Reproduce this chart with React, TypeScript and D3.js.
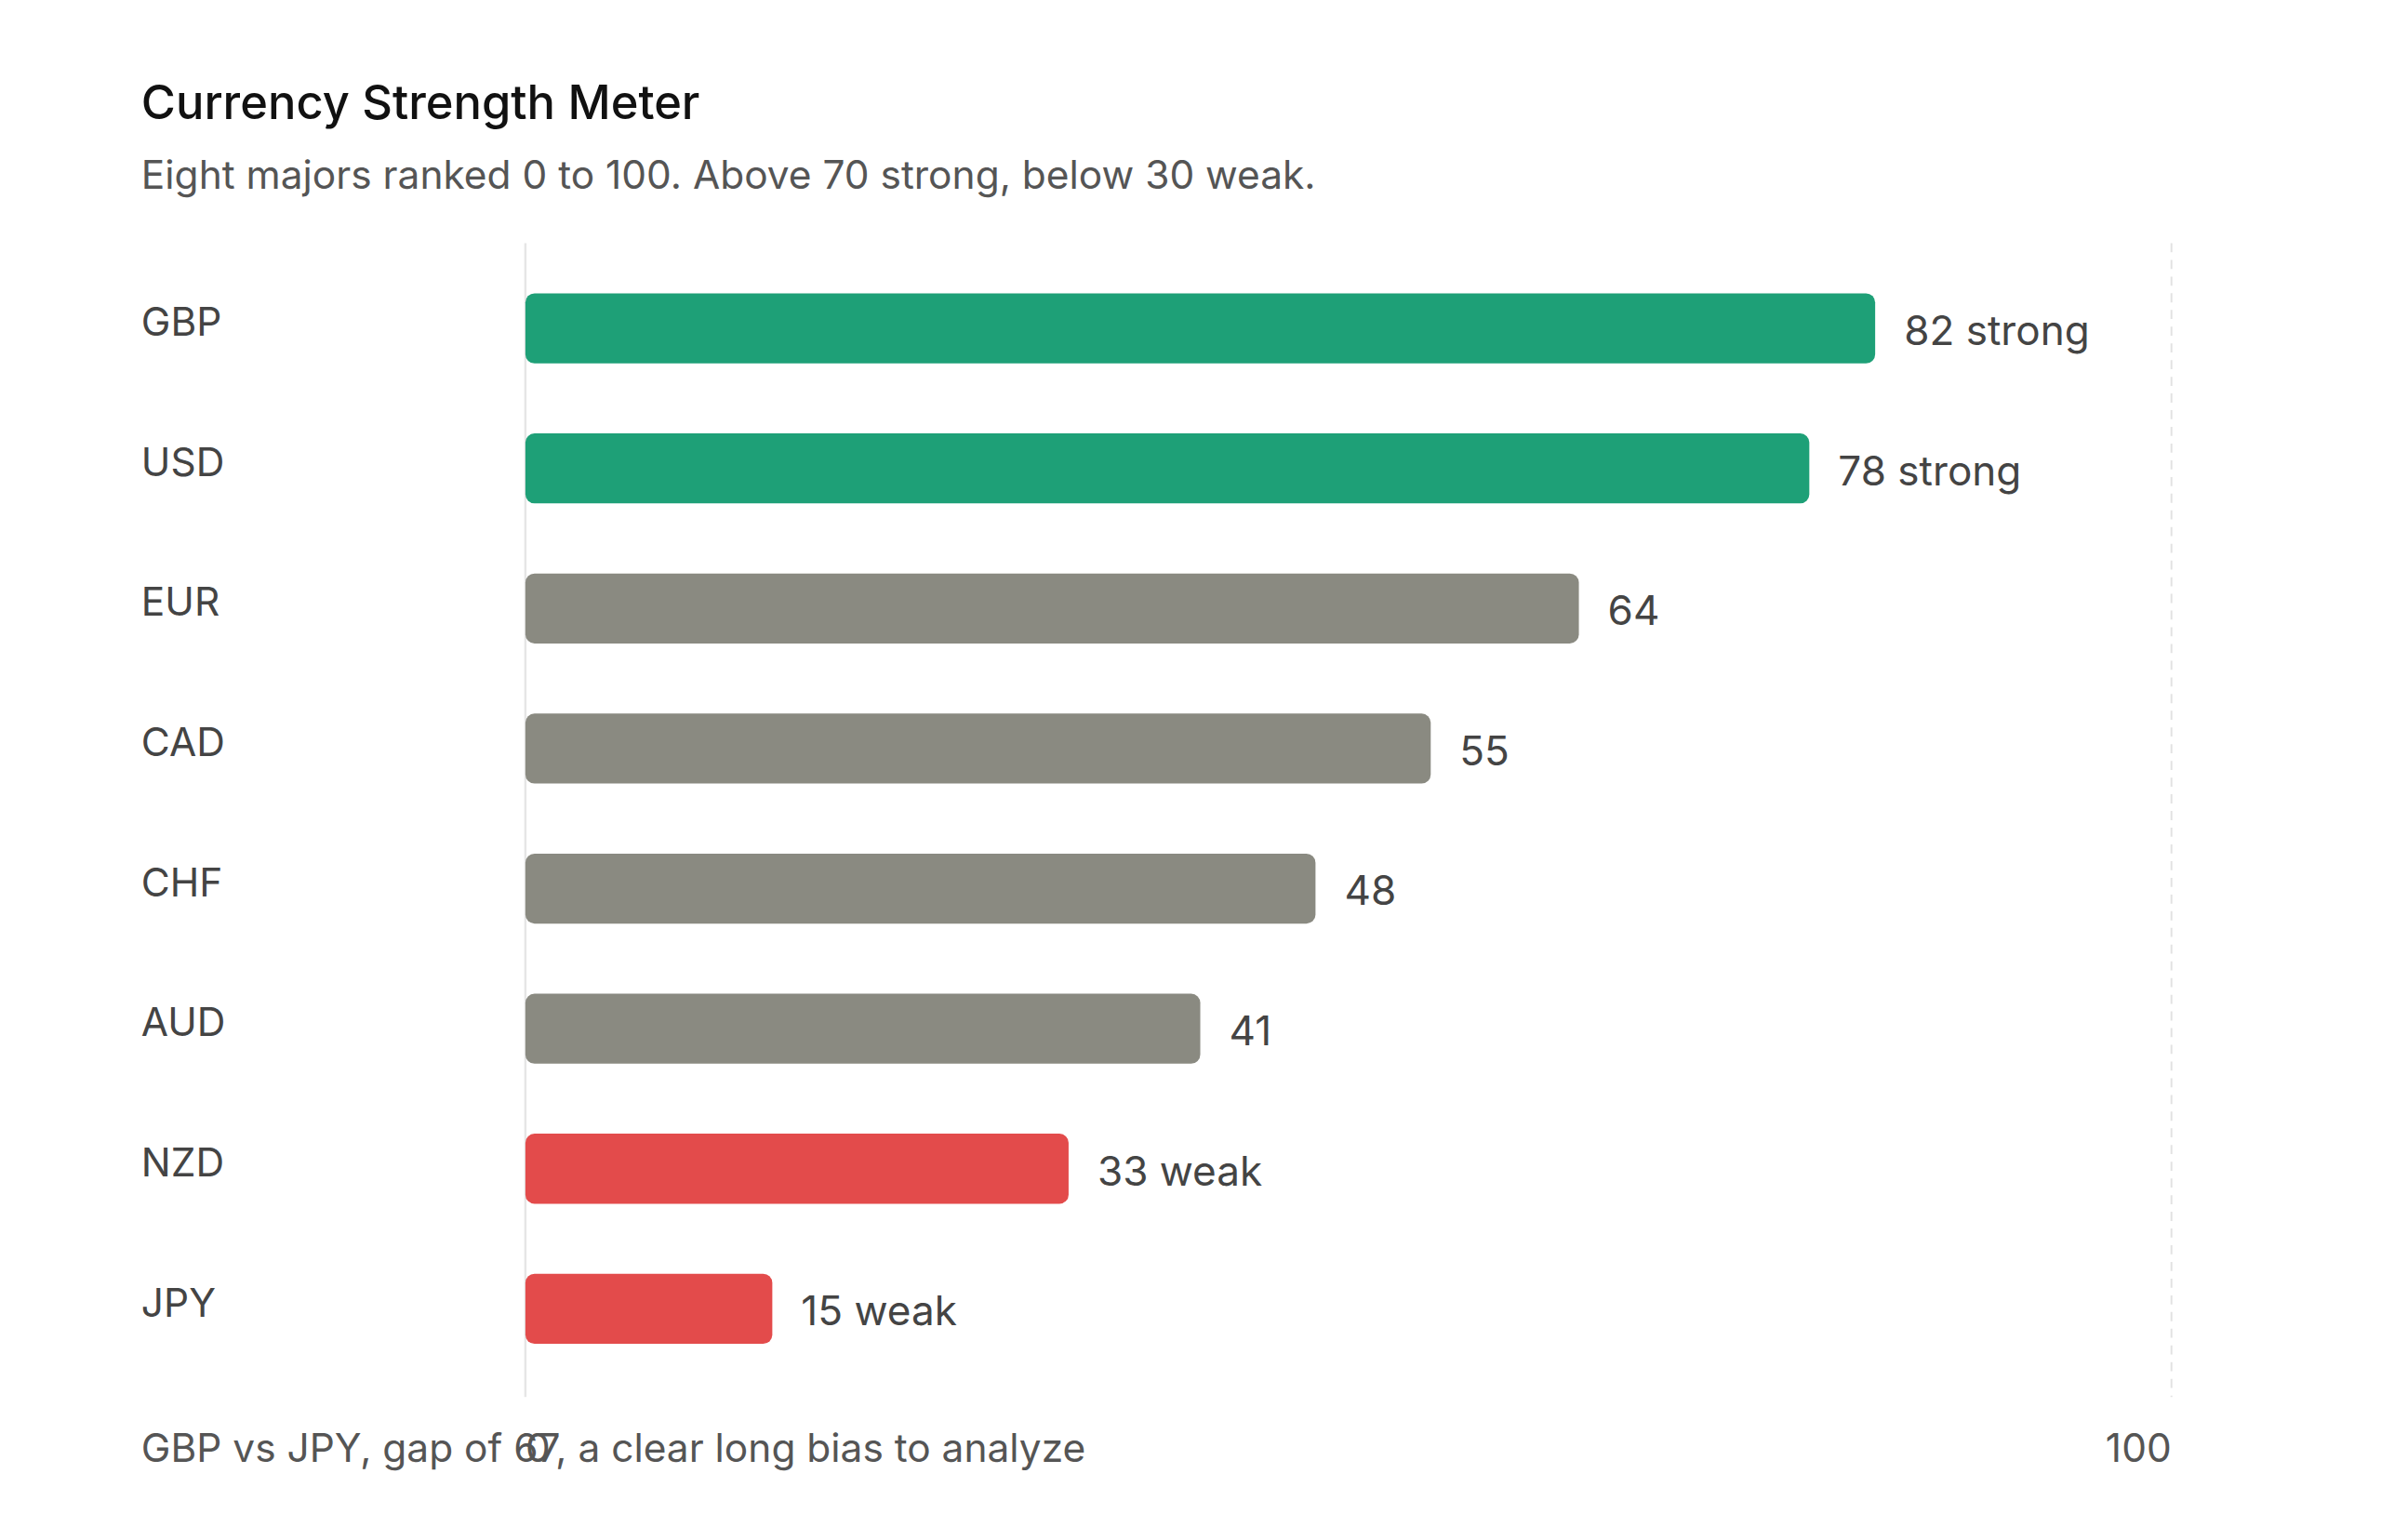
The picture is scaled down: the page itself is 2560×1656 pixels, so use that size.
import { useEffect, useRef } from 'react';
import * as d3 from 'd3';

const currencies = ['GBP', 'USD', 'EUR', 'CAD', 'CHF', 'AUD', 'NZD', 'JPY'];
const strength = [82, 78, 64, 55, 48, 41, 33, 15];
const xTicks = [0, 100];

const title = 'Currency Strength Meter';
const subtitle = 'Eight majors ranked 0 to 100. Above 70 strong, below 30 weak.';
const footnote = 'GBP vs JPY, gap of 67, a clear long bias to analyze';

const W = 1568;
const H = 1014;

export default function App() {
  const svgRef = useRef<SVGSVGElement>(null);

  useEffect(() => {
    if (!svgRef.current) return;
    const svg = d3.select(svgRef.current);
    svg.selectAll('*').remove();
    const font = 'Inter, "Noto Sans", sans-serif';

    const x = d3.scaleLinear().domain([0, 100]).range([346, 1430]);
    const y = d3.scaleBand().domain(currencies).range([170, 908]).paddingInner(0.5).paddingOuter(0.25);

    const color = (v: number) => (v > 70 ? '#1ea077' : v < 35 ? '#e34b4b' : '#8a8a81');
    const tag = (v: number) => (v > 70 ? ' strong' : v < 35 ? ' weak' : '');

    svg.append('text').attr('x', 93).attr('y', 78).attr('font-family', font)
      .attr('font-size', 31).attr('font-weight', 500).attr('fill', '#111').text(title);
    svg.append('text').attr('x', 93).attr('y', 124).attr('font-family', font)
      .attr('font-size', 26).attr('fill', '#555').text(subtitle);

    svg.append('line').attr('x1', x(0)).attr('x2', x(0)).attr('y1', 160).attr('y2', 920)
      .attr('stroke', '#e6e6e6').attr('stroke-width', 1.5);
    svg.append('line').attr('x1', x(100)).attr('x2', x(100)).attr('y1', 160).attr('y2', 920)
      .attr('stroke', '#e2e2e2').attr('stroke-width', 1.2).attr('stroke-dasharray', '6,5');

    const rows = svg.selectAll('g.row').data(currencies).enter().append('g').attr('class', 'row');
    rows.append('rect')
      .attr('x', x(0))
      .attr('y', d => y(d)!)
      .attr('width', (_, i) => x(strength[i]) - x(0))
      .attr('height', y.bandwidth())
      .attr('rx', 6)
      .attr('fill', (_, i) => color(strength[i]));
    rows.append('text')
      .attr('x', 93)
      .attr('y', d => y(d)! + y.bandwidth() / 2 + 5)
      .attr('font-family', font).attr('font-size', 26).attr('fill', '#444')
      .text(d => d);
    rows.append('text')
      .attr('x', (_, i) => x(strength[i]) + 19)
      .attr('y', d => y(d)! + y.bandwidth() / 2 + 11)
      .attr('font-family', font).attr('font-size', 27).attr('fill', '#444')
      .text((_, i) => `${strength[i]}${tag(strength[i])}`);

    svg.append('text').attr('x', 93).attr('y', 963).attr('font-family', font)
      .attr('font-size', 26).attr('fill', '#555').text(footnote);
    svg.selectAll('text.tick').data(xTicks).enter().append('text').attr('class', 'tick')
      .attr('x', d => x(d)).attr('y', 963)
      .attr('text-anchor', d => (d === 0 ? 'start' : 'end'))
      .attr('font-family', font).attr('font-size', 26).attr('fill', '#555')
      .text(d => `${d}`);
  }, []);

  return (
    <svg ref={svgRef} width={2560} height={1656} viewBox={`0 0 ${W} ${H}`}
      style={{ position: 'absolute', left: 0, top: 0, background: '#fff' }} />
  );
}
